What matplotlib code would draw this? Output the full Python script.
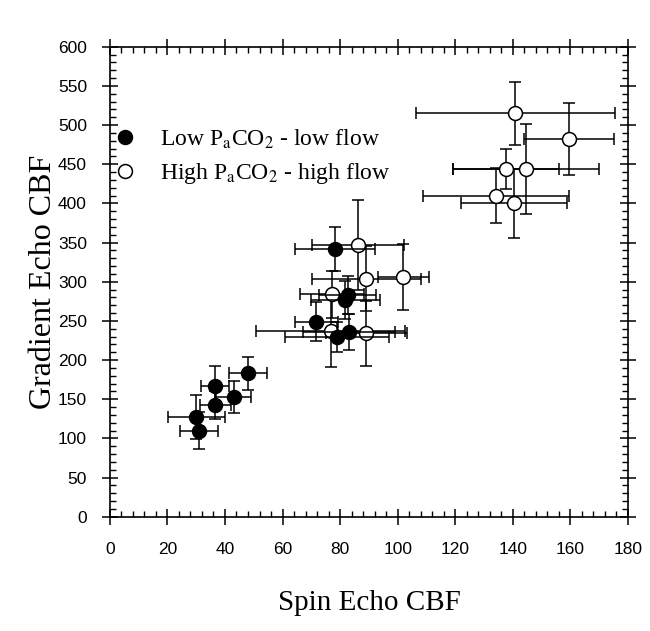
import matplotlib
matplotlib.use("Agg")
import matplotlib.pyplot as plt
from matplotlib.ticker import MultipleLocator

# Low PaCO2 - low flow (filled)
low_x = [30.1, 30.9, 36.5, 36.7, 43.0, 48.0, 71.7, 79.0, 83.0, 81.8, 82.6, 78.2]
low_y = [127, 110, 167, 143, 153, 183, 249, 229, 236, 277, 283, 342]
low_xerr = [10, 6.6, 5, 5.5, 6, 6.7, 7.5, 18, 16, 12, 10, 13.8]
low_yerr = [28, 24, 25, 18, 20, 21, 25, 19, 23, 24, 24, 28]

# High PaCO2 - high flow (open)
high_x = [77.2, 76.7, 89.1, 89.1, 102.0, 86.2, 140.9, 159.5, 137.6, 144.5, 134.2, 140.5]
high_y = [284, 237, 304, 234, 306, 347, 515, 482, 444, 444, 410, 400]
high_xerr = [11, 26, 19, 14, 9, 16, 34.6, 15.6, 18.4, 25.3, 25.3, 18.4]
high_yerr = [30, 46, 41, 41, 42, 57, 40, 46, 25, 57, 35, 44]

plt.rcParams['mathtext.fontset'] = 'stix'
serif = ['Liberation Serif', 'DejaVu Serif']

fig = plt.figure(figsize=(6.5, 6.31), dpi=100)
ax = fig.add_subplot(111)
fig.subplots_adjust(left=0.169, right=0.966, bottom=0.181, top=0.926)

eb = dict(fmt='o', ecolor='black', elinewidth=1.1, capsize=4, capthick=1.1,
          markersize=10, markeredgecolor='black', markeredgewidth=1.1)
ax.errorbar(high_x, high_y, xerr=high_xerr, yerr=high_yerr, markerfacecolor='white',
            label='High P$_\\mathrm{a}$CO$_2$ - high flow', zorder=3, **eb)
ax.errorbar(low_x, low_y, xerr=low_xerr, yerr=low_yerr, markerfacecolor='black',
            label='Low P$_\\mathrm{a}$CO$_2$ - low flow', zorder=4, **eb)

ax.set_xlim(0, 180)
ax.set_ylim(0, 600)
ax.xaxis.set_major_locator(MultipleLocator(20))
ax.xaxis.set_minor_locator(MultipleLocator(4))
ax.yaxis.set_major_locator(MultipleLocator(50))
ax.yaxis.set_minor_locator(MultipleLocator(10))
ax.tick_params(which='major', direction='inout', length=11, width=1.1,
               top=True, right=True, labelsize=12.5, pad=11)
ax.tick_params(axis='x', which='major', pad=12.5)
ax.tick_params(which='minor', direction='in', length=4, width=1.0, top=True, right=True)
for t in ax.get_xticklabels() + ax.get_yticklabels():
    t.set_family(['Liberation Sans', 'DejaVu Sans'])
for s in ax.spines.values():
    s.set_linewidth(1.2)

ax.set_xlabel('Spin Echo CBF', family=serif, fontsize=21, labelpad=24)
ax.set_ylabel('Gradient Echo CBF', family=serif, fontsize=23, labelpad=0)

h, l = ax.get_legend_handles_labels()
# just the markers in the legend, no error bars
handles = [hh[0] for hh in h][::-1]
labels = l[::-1]
ax.legend(handles, labels, loc='upper left', bbox_to_anchor=(0.006, 0.828),
          borderaxespad=0, borderpad=0, frameon=False, handlelength=1.0,
          handletextpad=1.0, labelspacing=0.45,
          prop={'family': serif, 'size': 17})

fig.savefig('out.png', dpi=100)
